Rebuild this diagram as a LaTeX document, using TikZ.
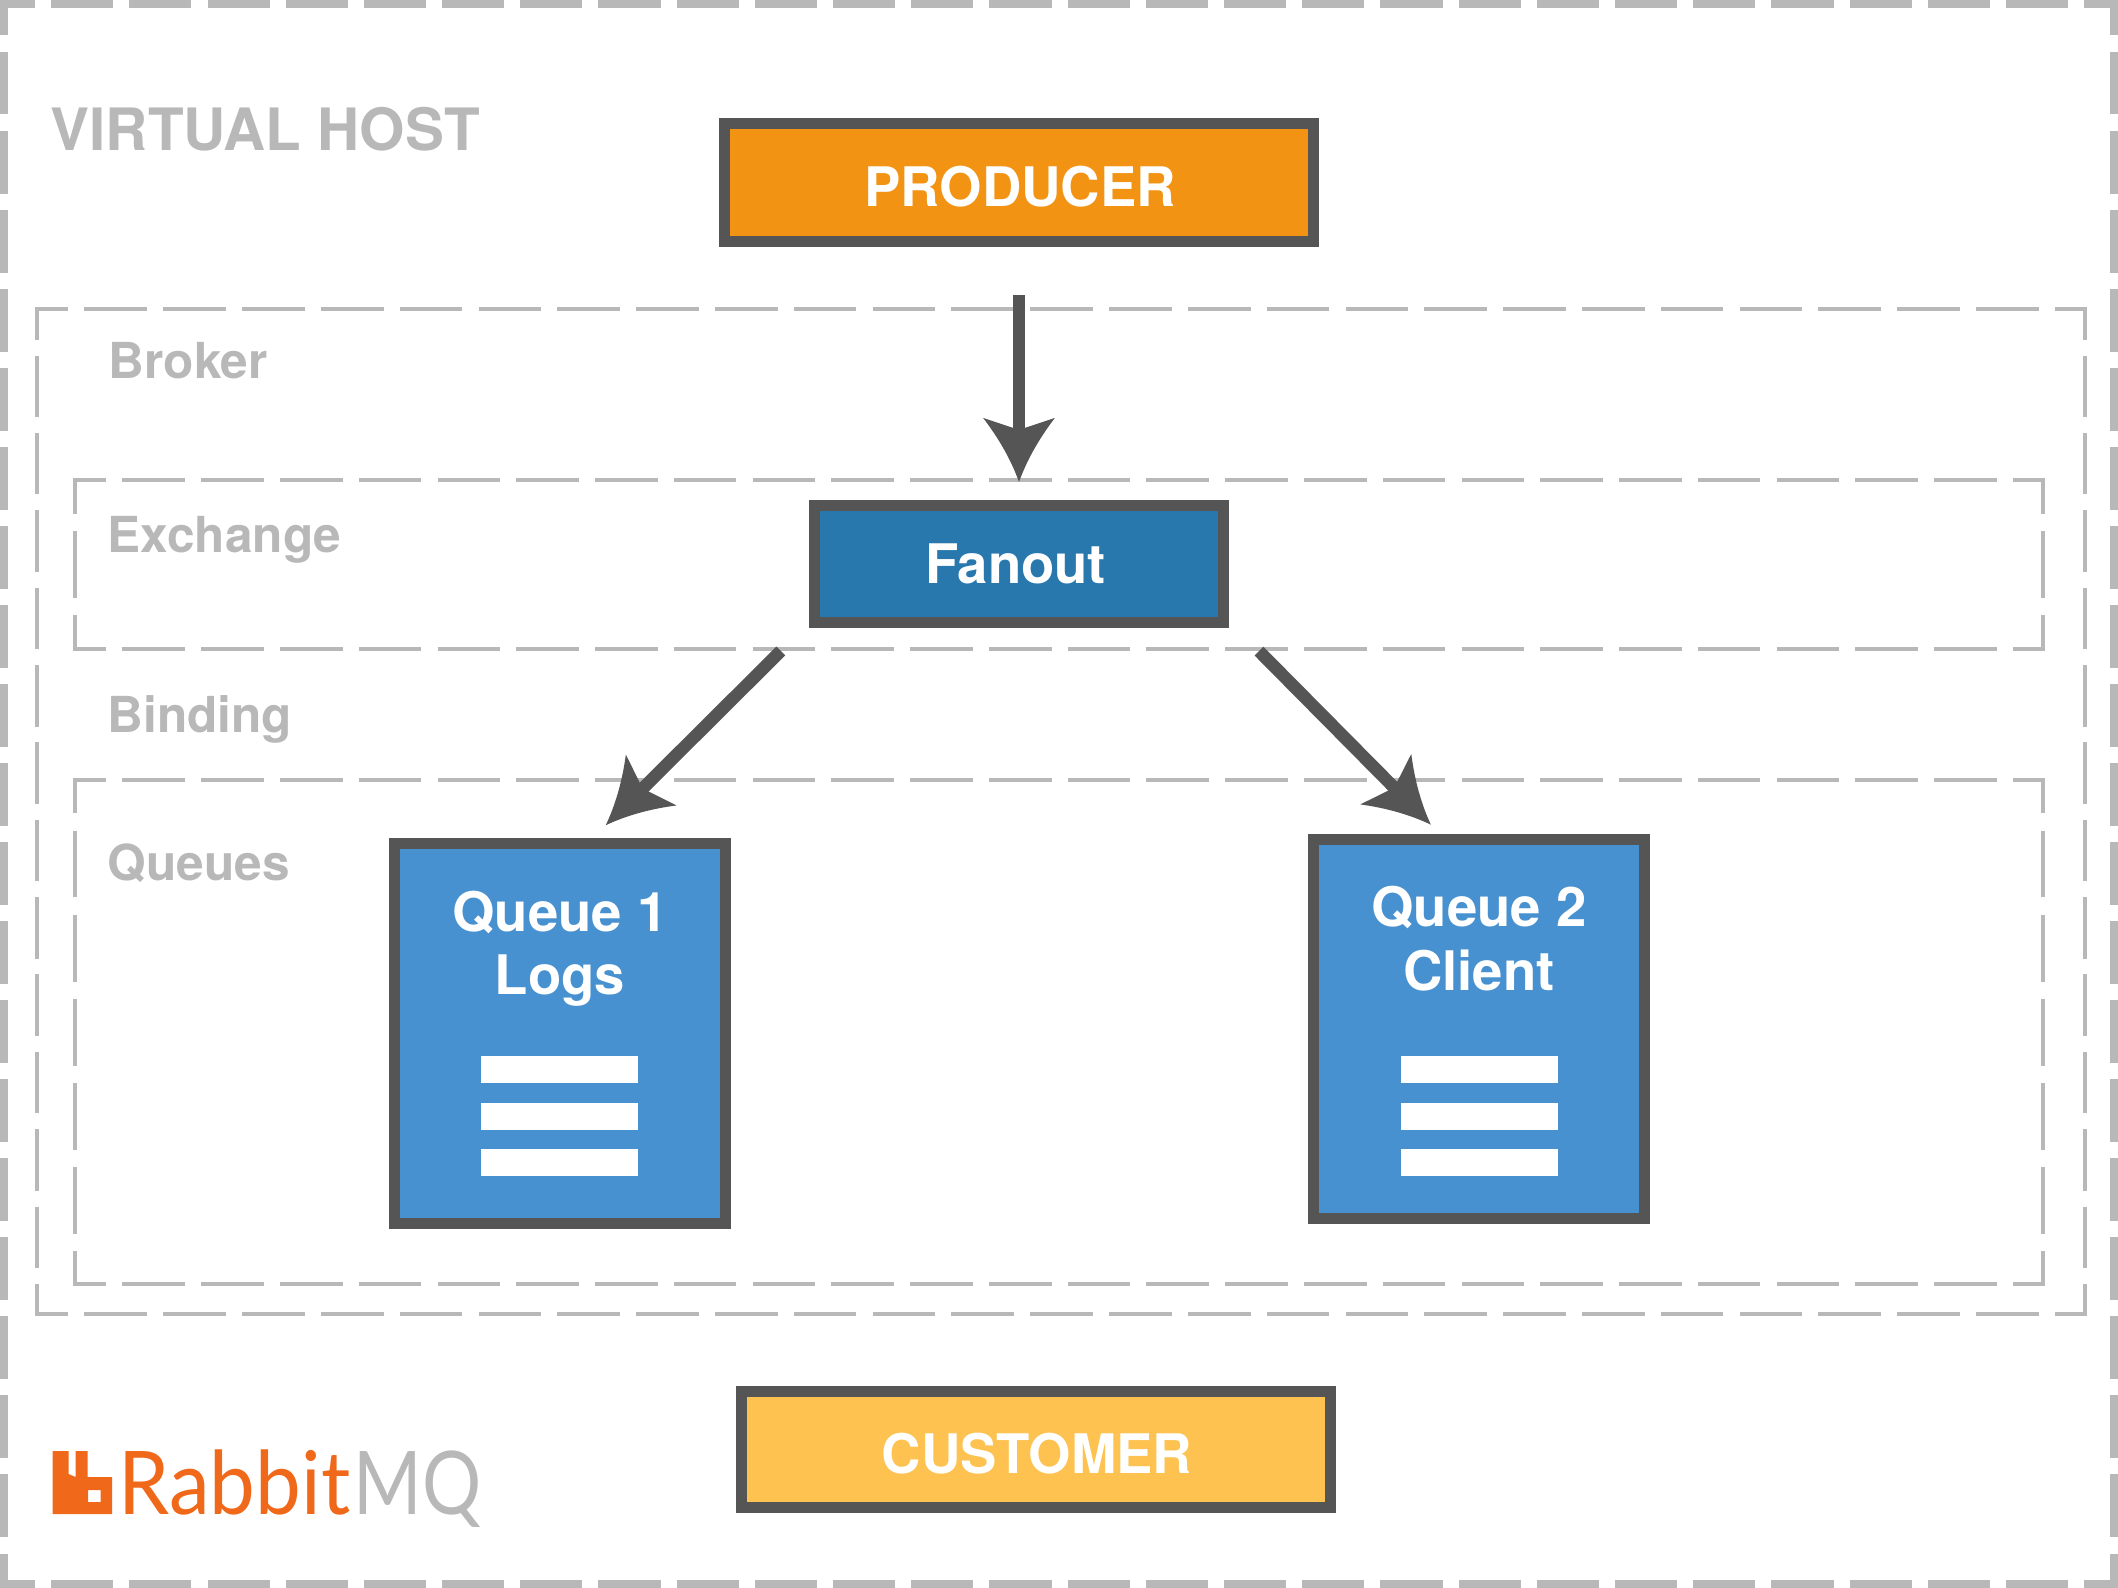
\documentclass[tikz,border=0pt]{standalone}
\usepackage{fontspec}
\setmainfont{TeX Gyre Heros}
\newfontfamily\logofont{Lato}
\usetikzlibrary{positioning}

\definecolor{frameGrey}{HTML}{B8B8B8}
\definecolor{edgeGrey}{HTML}{555555}
\definecolor{producerFill}{HTML}{F39313}
\definecolor{fanoutFill}{HTML}{2878AE}
\definecolor{queueFill}{HTML}{4891D0}
\definecolor{customerFill}{HTML}{FDC24F}
\definecolor{logoOrange}{HTML}{F0691A}

\pgfarrowsdeclare{curvetip}{curvetip}
{\pgfarrowsleftextend{-6.2pt}\pgfarrowsrightextend{12pt}}
{
  \pgfpathmoveto{\pgfpoint{12pt}{0pt}}
  \pgfpathcurveto{\pgfpoint{5.9pt}{2.2pt}}{\pgfpoint{-.2pt}{5.6pt}}{\pgfpoint{-6.2pt}{10.2pt}}
  \pgfpathlineto{\pgfpoint{-2.8pt}{0pt}}
  \pgfpathlineto{\pgfpoint{-6.2pt}{-10.2pt}}
  \pgfpathcurveto{\pgfpoint{-.2pt}{-5.6pt}}{\pgfpoint{5.9pt}{-2.2pt}}{\pgfpoint{12pt}{0pt}}
  \pgfusepathqfill
}

\tikzset{
  box/.style={draw=edgeGrey, line width=.11cm, text=white, font=\bfseries\fontsize{15.5}{18}\selectfont, align=center, inner sep=0pt},
  flow/.style={->, >=curvetip, draw=edgeGrey, line width=.125cm},
  bar/.style={fill=white},
  caption/.style={anchor=base west, inner sep=0pt, text=frameGrey, font=\bfseries\fontsize{14.1}{16}\selectfont},
  qtitle/.style={inner sep=0pt, text=white, align=center, font=\bfseries\fontsize{15.5}{18}\selectfont},
}

% one side of a dashed frame, half a dash at each corner
\newcommand{\frameside}[5]{%
  \pgfmathsetmacro{\sidelen}{abs(#3-#1)+abs(#4-#2)}
  \pgfmathsetmacro{\period}{\sidelen/round(\sidelen/78)}
  \pgfmathsetmacro{\dashon}{\period*.795*.28453}
  \pgfmathsetmacro{\dashoff}{\period*.205*.28453}
  \pgfmathsetmacro{\dashstart}{\dashon/2-#5*.14226}
  \draw[frameGrey, line width=#5*.28453pt, shorten <=-#5*.14226pt, shorten >=-#5*.14226pt,
        dash pattern=on \dashon pt off \dashoff pt, dash phase=\dashstart pt] (#1,#2) -- (#3,#4);
}
\newcommand{\dashframe}[5]{%
  \frameside{#1}{#2}{#3}{#2}{#5}
  \frameside{#1}{#4}{#3}{#4}{#5}
  \frameside{#1}{#2}{#1}{#4}{#5}
  \frameside{#3}{#2}{#3}{#4}{#5}
}

\begin{document}
\begin{tikzpicture}[x=.01cm, y=-.01cm]

    \useasboundingbox (0,0) rectangle (2118,1588);

    % frames
    \dashframe{4}{4}{2114}{1584}{8}
    \dashframe{37}{309}{2085}{1314}{4}
    \dashframe{75}{480}{2043}{649}{4}
    \dashframe{75}{780}{2043}{1284}{4}

    % captions
    \node[caption, font=\bfseries\fontsize{16.6}{20}\selectfont] (vhost) at (50,151) {VIRTUAL HOST};
    \node[caption] (broker) at (108,378) {Broker};
    \node[caption] (exchange) at (107,552) {Exchange};
    \node[caption] (binding) at (107,732) {Binding};
    \node[caption] (queues) at (107,880) {Queues};

    % boxes
    \node[box, fill=producerFill, minimum width=5.89cm, minimum height=1.18cm, text height=.47cm, text depth=0pt] (producer) at (1019,182.5) {PRODUCER\hspace*{-.02cm}};
    \node[box, fill=fanoutFill, minimum width=4.09cm, minimum height=1.17cm] (fanout) at (1019,564) {Fanout\hspace*{.068cm}};
    \node[box, fill=queueFill, minimum width=3.31cm, minimum height=3.80cm] (queue1) at (560,1033.5) {};
    \node[box, fill=queueFill, minimum width=3.31cm, minimum height=3.79cm] (queue2) at (1479,1029) {};
    \node[box, fill=customerFill, minimum width=5.89cm, minimum height=1.16cm, text height=.47cm, text depth=0pt] (customer) at (1036,1449.5) {CUSTOMER\hspace*{-.02cm}};

    \node[qtitle] (q1title) at (560,948.5) {Queue 1\\Logs};
    \node[qtitle] (q2title) at (1479,938.5) {Queue 2\\Client};

    % message bars
    \foreach \y in {1056,1103,1149} {
        \fill[bar] (481,\y) rectangle (638,\y+27);
        \fill[bar] (1401,\y) rectangle (1558,\y+27);
    }

    % arrows
    \draw[flow, shorten <=.48cm, shorten >=.18cm] (producer.south) -- (fanout.north);
    \draw[flow, shorten <=.325cm, shorten >=.18cm] ([xshift=-.05cm]fanout.south west) -- ([xshift=.33cm]queue1.north);
    \draw[flow, shorten <=.325cm, shorten >=.13cm] ([xshift=.07cm]fanout.south east) -- ([xshift=-.39cm]queue2.north);

    % logo
    \fill[logoOrange, even odd rule] (52.5,1451) -- (68.5,1451) -- (68.5,1474) -- (75.7,1477) -- (75.7,1451) -- (87.5,1451) -- (87.5,1477) -- (112,1477) -- (112,1514) -- (52.5,1514) -- cycle
        (88,1490) -- (100.7,1490) -- (100.7,1502) -- (88,1502) -- cycle;
    \node[anchor=base west, inner sep=0pt, xscale=.93, text=logoOrange, font=\logofont\fontsize{25}{25}\selectfont] (rabbit) at (118,1514) {Rabbit};
    \node[anchor=base west, inner sep=0pt, xscale=.84, text=frameGrey, font=\logofont\fontsize{25}{25}\selectfont] (mq) at (353,1514) {MQ};

\end{tikzpicture}
\end{document}
